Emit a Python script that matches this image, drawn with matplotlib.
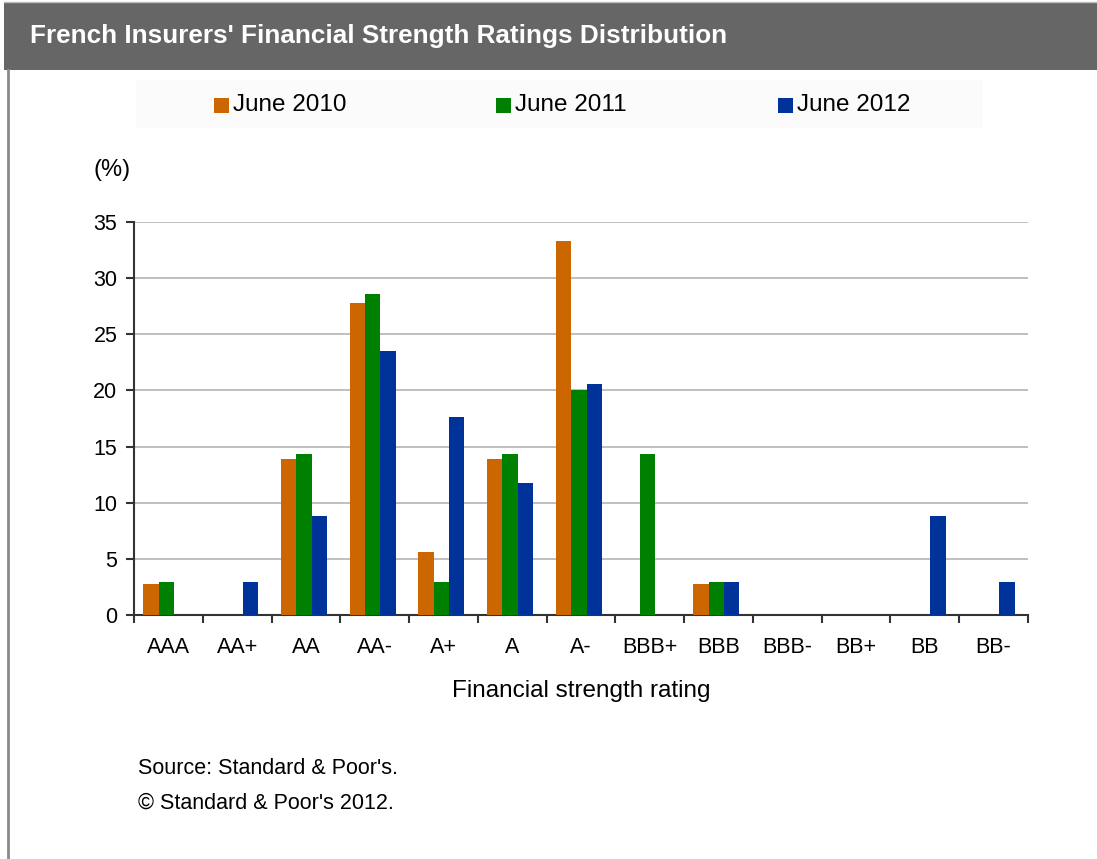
import matplotlib.pyplot as plt
from matplotlib.patches import Rectangle
from matplotlib.ticker import FixedLocator, NullFormatter

plt.rcParams['font.family'] = ['Liberation Sans', 'DejaVu Sans']

# ratings distribution, % of rated insurers
ratings = ["AAA", "AA+", "AA", "AA-", "A+", "A", "A-", "BBB+", "BBB", "BBB-", "BB+", "BB", "BB-"]
june_2010 = [2.8, 0, 13.9, 27.8, 5.6, 13.9, 33.3, 0, 2.8, 0, 0, 0, 0]
june_2011 = [2.9, 0, 14.3, 28.6, 2.9, 14.3, 20.0, 14.3, 2.9, 0, 0, 0, 0]
june_2012 = [0, 2.9, 8.8, 23.5, 17.6, 11.8, 20.6, 0, 2.9, 0, 0, 8.8, 2.9]

series = [("June 2010", june_2010, "#CC6600"),
          ("June 2011", june_2011, "#008000"),
          ("June 2012", june_2012, "#003399")]

W, H = 1097, 859
fig = plt.figure(figsize=(W / 100, H / 100), dpi=100)
fig.patch.set_facecolor("white")

# header bar and frame
fig.patches.append(Rectangle((4 / W, 1 - 70 / H), 1, 67 / H, transform=fig.transFigure,
                             facecolor="#666666", edgecolor="none"))
fig.lines.append(plt.Line2D([8 / W, 8 / W], [0, 1 - 70 / H], transform=fig.transFigure,
                            color="#8a8a8a", lw=2))
fig.lines.append(plt.Line2D([4 / W, 1], [1 - 2 / H, 1 - 2 / H], transform=fig.transFigure,
                            color="#bbbbbb", lw=1))
fig.text(30 / W, 1 - 36 / H, "French Insurers' Financial Strength Ratings Distribution",
         color="white", fontsize=18.8, fontweight="bold", va="center", ha="left")

# faint legend panel
fig.patches.append(Rectangle((136 / W, 1 - 128 / H), 847 / W, 48 / H, transform=fig.transFigure,
                             facecolor="#fbfbfb", edgecolor="none"))
leg_x = [214, 496, 778]
for (label, _, color), lx in zip(series, leg_x):
    fig.patches.append(Rectangle((lx / W, 1 - 113 / H), 15 / W, 15 / H, transform=fig.transFigure,
                                 facecolor=color, edgecolor="none"))
    fig.text((lx + 19) / W, 1 - 105 / H, label, fontsize=17.5, va="center", ha="left")

ax = fig.add_axes([134 / W, 1 - 615 / H, (1028 - 134) / W, (615 - 222) / H])
width = 0.223
for i, (label, vals, color) in enumerate(series):
    xs = [k + (i - 1) * width - 0.03 for k in range(len(ratings))]
    ax.bar(xs, vals, width=width, color=color, edgecolor="none", zorder=3)

ax.set_xlim(-0.5, len(ratings) - 0.5)
ax.set_ylim(0, 35)
ax.set_yticks(range(0, 36, 5))
ax.yaxis.grid(True, color="#b4b4b4", lw=1.2, zorder=0)
ax.set_axisbelow(True)

ax.xaxis.set_major_locator(FixedLocator([k - 0.5 for k in range(len(ratings) + 1)]))
ax.xaxis.set_major_formatter(NullFormatter())
ax.xaxis.set_minor_locator(FixedLocator(range(len(ratings))))
ax.set_xticklabels(ratings, minor=True)
ax.tick_params(axis="x", which="minor", length=0, pad=16, labelsize=15.5)
ax.tick_params(axis="x", which="major", length=6, width=1.5, color="#333333", direction="out")
ax.tick_params(axis="y", length=6, width=1.5, color="#333333", labelsize=15.5, pad=6)

for side in ("top", "right"):
    ax.spines[side].set_visible(False)
for side in ("left", "bottom"):
    ax.spines[side].set_color("#333333")
    ax.spines[side].set_linewidth(1.5)

ax.set_xlabel("Financial strength rating", fontsize=17.5, labelpad=16)
fig.text(93 / W, 1 - 170 / H, "(%)", fontsize=17, va="center", ha="left")

fig.text(138 / W, 1 - 769 / H, "Source: Standard & Poor's.", fontsize=15.5, va="center", ha="left")
fig.text(138 / W, 1 - 803 / H, "\u00a9 Standard & Poor's 2012.", fontsize=15.5, va="center", ha="left")

fig.savefig("out.png", dpi=100)
